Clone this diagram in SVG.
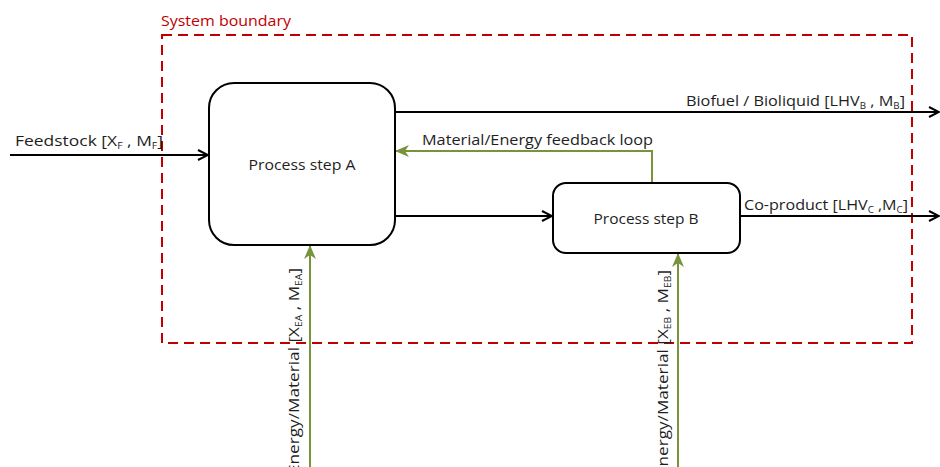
<svg xmlns="http://www.w3.org/2000/svg" width="940" height="467" viewBox="0 0 940 467">
<defs>
<style>
.t{font-family:"Open Sans","Liberation Sans",Arial,sans-serif;font-size:15px;fill:#1e1e1e}
.s{font-size:9px}
.box{fill:#fff;stroke:#000;stroke-width:2}
.blk{stroke:#000;stroke-width:2;fill:none}
.grn{stroke:#77933c;stroke-width:2;fill:none}
</style>
<marker id="ab" markerWidth="12" markerHeight="12" viewBox="0 0 12 12" refX="11" refY="6" orient="auto" markerUnits="userSpaceOnUse">
<path d="M1,1 L11,6 L1,11" fill="none" stroke="#000" stroke-width="2"/>
</marker>
<marker id="ag" markerWidth="14" markerHeight="14" viewBox="0 0 14 14" refX="13" refY="7" orient="auto" markerUnits="userSpaceOnUse">
<path d="M0,1 L14,7 L0,13 L4,7 Z" fill="#77933c"/>
</marker>
</defs>
<rect width="940" height="467" fill="#fff"/>
<g id="boundary">
<rect x="162" y="35" width="750" height="308" fill="none" stroke="#c00000" stroke-width="2" stroke-dasharray="10,6"/>
<text x="161" y="26" class="t" style="fill:#c00000" textLength="130" lengthAdjust="spacingAndGlyphs">System boundary</text>
</g>
<g id="connectors">
<line x1="10" y1="155" x2="208" y2="155" class="blk" marker-end="url(#ab)"/>
<line x1="395" y1="112" x2="939" y2="112" class="blk" marker-end="url(#ab)"/>
<line x1="395" y1="216" x2="552" y2="216" class="blk" marker-end="url(#ab)"/>
<line x1="740" y1="216" x2="939" y2="216" class="blk" marker-end="url(#ab)"/>
<polyline points="652,183 652,151 396,151" class="grn" marker-end="url(#ag)"/>
<line x1="310" y1="467" x2="310" y2="246" class="grn" marker-end="url(#ag)"/>
<line x1="678" y1="467" x2="678" y2="254" class="grn" marker-end="url(#ag)"/>
<text x="15" y="146" class="t" textLength="148" lengthAdjust="spacingAndGlyphs">Feedstock [X<tspan class="s" dy="3">F</tspan><tspan dy="-3"> , M</tspan><tspan class="s" dy="3">F</tspan><tspan dy="-3">]</tspan></text>
<text x="686" y="106" class="t" textLength="219" lengthAdjust="spacingAndGlyphs">Biofuel / Bioliquid  [LHV<tspan class="s" dy="3">B</tspan><tspan dy="-3"> , M</tspan><tspan class="s" dy="3">B</tspan><tspan dy="-3">]</tspan></text>
<text x="422" y="145" class="t" textLength="231" lengthAdjust="spacingAndGlyphs">Material/Energy feedback loop</text>
<text x="744" y="210" class="t" textLength="164" lengthAdjust="spacingAndGlyphs">Co-product [LHV<tspan class="s" dy="3">C</tspan><tspan dy="-3"> ,M</tspan><tspan class="s" dy="3">C</tspan><tspan dy="-3">]</tspan></text>
<text transform="translate(299,268) rotate(-90)" class="t" text-anchor="end" textLength="206" lengthAdjust="spacingAndGlyphs">Energy/Material [X<tspan class="s" dy="3">EA</tspan><tspan dy="-3"> , M</tspan><tspan class="s" dy="3">EA</tspan><tspan dy="-3">]</tspan></text>
<text transform="translate(668,270) rotate(-90)" class="t" text-anchor="end" textLength="206" lengthAdjust="spacingAndGlyphs">Energy/Material [X<tspan class="s" dy="3">EB</tspan><tspan dy="-3"> , M</tspan><tspan class="s" dy="3">EB</tspan><tspan dy="-3">]</tspan></text>
</g>
<g id="nodeA">
<rect x="209" y="83" width="186" height="162" rx="25" class="box"/>
<text x="302" y="170" class="t" text-anchor="middle" textLength="107" lengthAdjust="spacingAndGlyphs">Process step A</text>
</g>
<g id="nodeB">
<rect x="553" y="183" width="187" height="70" rx="13" class="box"/>
<text x="646" y="224" class="t" text-anchor="middle" textLength="105" lengthAdjust="spacingAndGlyphs">Process step B</text>
</g>
</svg>
